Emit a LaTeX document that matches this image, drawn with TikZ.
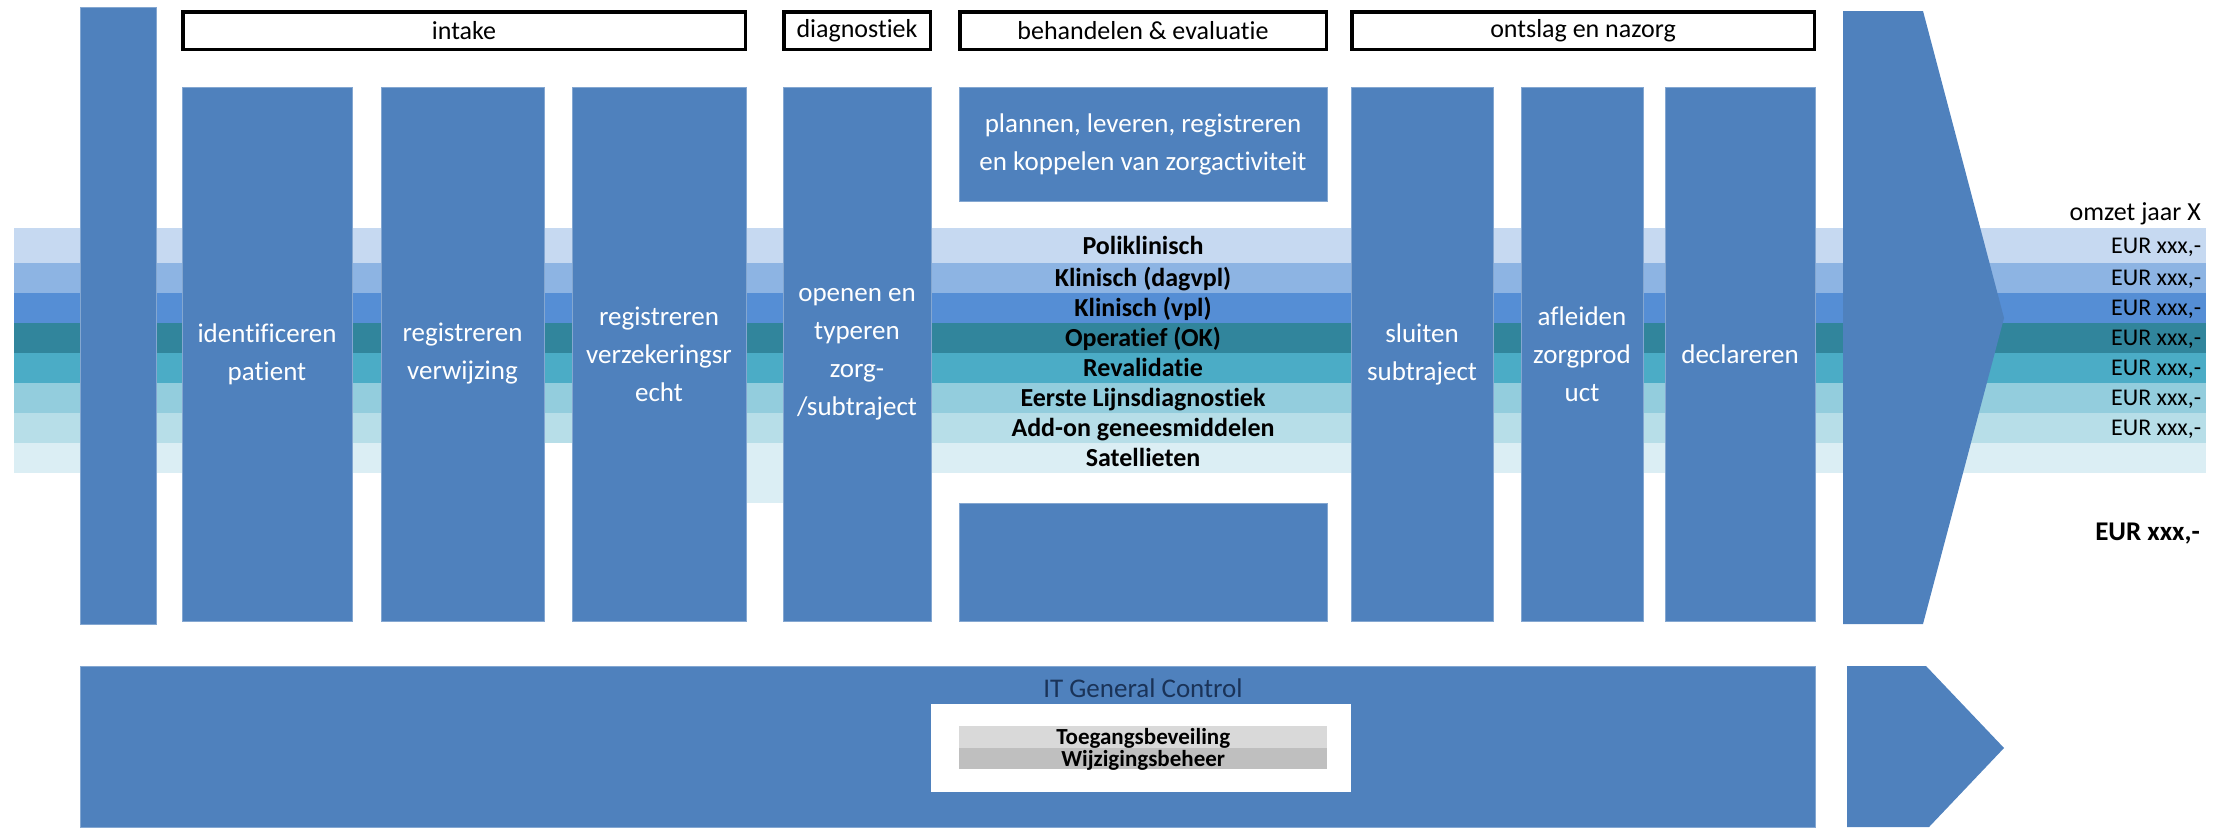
\documentclass[tikz,border=0pt]{standalone}
\usepackage{fontspec}
\setmainfont{Carlito}[Ligatures={NoCommon}]
\usetikzlibrary{positioning,matrix}

\definecolor{boxblue}{HTML}{4F81BD}
\definecolor{bandA}{HTML}{C6D9F1}
\definecolor{bandB}{HTML}{8DB4E3}
\definecolor{bandC}{HTML}{558ED5}
\definecolor{bandD}{HTML}{31859C}
\definecolor{bandE}{HTML}{4BACC6}
\definecolor{bandF}{HTML}{93CDDD}
\definecolor{bandG}{HTML}{B7DEE8}
\definecolor{bandH}{HTML}{DBEEF4}
\definecolor{ctrlA}{HTML}{D9D9D9}
\definecolor{ctrlB}{HTML}{BFBFBF}
\definecolor{itnavy}{HTML}{1A3358}

\newcommand\fsBox{\fontsize{27}{38}\selectfont}
\newcommand\fsHead{\fontsize{26}{30}\selectfont}
\newcommand\fsBand{\fontsize{26}{30}\selectfont\bfseries}
\newcommand\fsCtrl{\fontsize{23}{26}\selectfont\bfseries}
\newcommand\fsEur{\fontsize{24}{28}\selectfont}
\newcommand\fsEurB{\fontsize{27}{30}\selectfont\bfseries}

\begin{document}
\begin{tikzpicture}[
    x=1pt, y=-1pt,
    proc/.style={rectangle, fill=boxblue, draw=boxblue!70!white,
                 line width=0.8pt, inner sep=0pt, text=white,
                 align=center, font=\fsBox},
    procol/.style={proc, minimum height=534pt},
    phase/.style={rectangle, draw=black, line width=3.5pt, fill=white,
                  inner sep=0pt, minimum height=37.5pt, font=\fsHead},
    lane/.style={matrix of nodes,
                 inner sep=0pt,
                 row sep=0pt,
                 nodes={inner sep=0pt, minimum width=2192pt, minimum height=30pt},
                 nodes in empty cells},
    lanetext/.style={inner sep=0pt, font=\fsBand, text height=17pt, text depth=0pt},
    eur/.style={anchor=east, inner sep=0pt, font=\fsEur,
                text height=15pt, text depth=0pt}]

    \useasboundingbox (0,0) rectangle (2218,827);

    \matrix (bands) [
      lane, anchor=north west,
      row 1/.style={nodes={fill=bandA, minimum height=35pt}},
      row 2/.style={nodes={fill=bandB}},
      row 3/.style={nodes={fill=bandC}},
      row 4/.style={nodes={fill=bandD}},
      row 5/.style={nodes={fill=bandE}},
      row 6/.style={nodes={fill=bandF}},
      row 7/.style={nodes={fill=bandG}},
      row 8/.style={nodes={fill=bandH}}] at (14,228)
    {
      \\ \\ \\ \\ \\ \\ \\ \\
    };
    \fill[white] (544,443) rectangle (572,473);
    \fill[bandH] (746,473) rectangle (783,503);

    \node[lanetext] (poli)   at (1143,0 |- bands-1-1) {Poliklinisch};
    \node[lanetext] (dagvpl) at (1143,0 |- bands-2-1) {Klinisch (dagvpl)};
    \node[lanetext] (vpl)    at (1143,0 |- bands-3-1) {Klinisch (vpl)};
    \node[lanetext] (ok)     at (1143,0 |- bands-4-1) {Operatief (OK)};
    \node[lanetext] (reval)  at (1143,0 |- bands-5-1) {Revalidatie};
    \node[lanetext] (eerste) at (1143,0 |- bands-6-1) {Eerste Lijnsdiagnostiek};
    \node[lanetext] (addon)  at (1143,0 |- bands-7-1) {Add-on geneesmiddelen};
    \node[lanetext] (satel)  at (1143,0 |- bands-8-1) {Satellieten};

    \node[eur] (eur1) at ([xshift=-5pt]bands-1-1.east) {EUR xxx,-};
    \node[eur] (eur2) at ([xshift=-5pt]bands-2-1.east) {EUR xxx,-};
    \node[eur] (eur3) at ([xshift=-5pt]bands-3-1.east) {EUR xxx,-};
    \node[eur] (eur4) at ([xshift=-5pt]bands-4-1.east) {EUR xxx,-};
    \node[eur] (eur5) at ([xshift=-5pt]bands-5-1.east) {EUR xxx,-};
    \node[eur] (eur6) at ([xshift=-5pt]bands-6-1.east) {EUR xxx,-};
    \node[eur] (eur7) at ([xshift=-5pt]bands-7-1.east) {EUR xxx,-};
    \node[anchor=base east, inner sep=0pt, font=\fsHead] (omzet) at (2201,220) {omzet jaar X};
    \node[eur, font=\fsEurB, text height=17pt] (totaal) at (2200,532) {EUR xxx,-};

    % phases
    \node[phase, minimum width=562.5pt] (intake)  at (464,30.5)  {intake};
    \node[phase, minimum width=146.5pt] (diag)    at (857,30.5)  {diagnostiek};
    \node[phase, minimum width=366.5pt] (behand)  at (1143,30.5) {behandelen \& evaluatie};
    \node[phase, minimum width=462.5pt] (ontslag) at (1583,30.5) {ontslag en nazorg};

    \node[proc, minimum width=76pt, minimum height=617pt] (start) at (118,315.5) {};
    \node[procol, minimum width=170pt] (ident)    at (267,354)  {identificeren\\patient};
    \node[procol, minimum width=163pt] (verwijz)  at (462.5,354) {registreren\\verwijzing};
    \node[procol, minimum width=174pt] (verzek)   at (659,354)  {registreren\\verzekeringsr\\echt};
    \node[procol, minimum width=148pt] (openen)   at (857,354)  {openen en\\typeren\\zorg-\\/subtraject};
    \node[proc, minimum width=368pt, minimum height=114pt] (plannen) at (1143,144)
      {plannen, leveren, registreren\\en koppelen van zorgactiviteit};
    \node[proc, minimum width=368pt, minimum height=118pt] (leeg) at (1143,562) {};
    \node[procol, minimum width=142pt] (sluiten)  at (1422,354) {sluiten\\subtraject};
    \node[procol, minimum width=122pt] (afleiden) at (1582,354) {afleiden\\zorgprod\\uct};
    \node[procol, minimum width=150pt] (declar)   at (1740,354) {declareren};

    \fill[boxblue] (1843,11) -- (1923,11) -- (2004,318) -- (1923,624) -- (1843,624) -- cycle;

    % IT general control
    \node[proc, minimum width=1735.5pt, minimum height=161pt] (itgc) at (947.75,746.5) {};
    \fill[boxblue] (1847,666) -- (1926,666) -- (2004,748) -- (1929,827) -- (1847,827) -- cycle;
    \node[font=\fsBox, text=itnavy, inner sep=0pt] (itgclabel) at (1143,688) {IT General Control};
    \node[fill=white, inner sep=0pt, minimum width=420pt, minimum height=88pt] (ctrlbox) at (1141,748) {};

    \matrix (ctrl) [
      lane, anchor=north west,
      nodes={minimum width=368pt, minimum height=21pt, font=\fsCtrl,
             text height=15pt, text depth=0pt},
      row 1/.style={nodes={fill=ctrlA, minimum height=22pt}},
      row 2/.style={nodes={fill=ctrlB}}] at (959,726)
    {
      Toegangsbeveiling \\
      Wijzigingsbeheer  \\
    };
  \end{tikzpicture}
\end{document}
